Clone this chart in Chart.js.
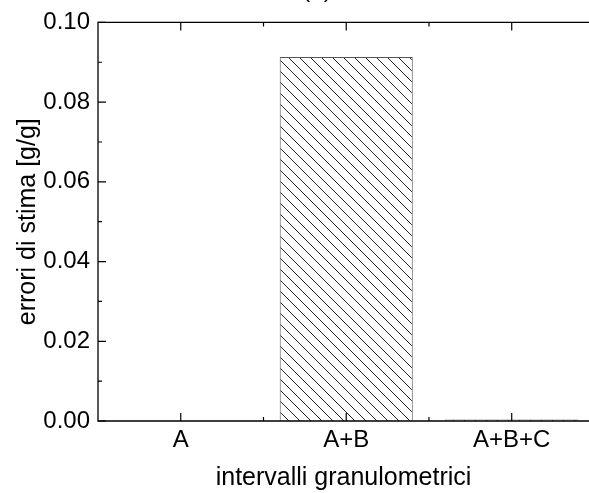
<!DOCTYPE html>
<html>
<head>
<meta charset="utf-8">
<script src="https://cdn.jsdelivr.net/npm/chart.js@4"></script>
<style>
  html, body { margin: 0; padding: 0; overflow: hidden; background: #fff; }
  #errChart { display: block; }
</style>
</head>
<body>
<canvas id="errChart" width="589" height="493"></canvas>
<script>
const categories = ['A', 'A+B', 'A+B+C'];
const errorValues = [0, 0.0913, 0.0004];
const yTicks = [0, 0.02, 0.04, 0.06, 0.08, 0.10];
const yMinorTicks = [0.01, 0.03, 0.05, 0.07, 0.09];
const panelTitle = '(a)';

Chart.defaults.font.family = "'Liberation Sans', Arial, sans-serif";
Chart.defaults.color = '#000';

function makeHatch() {
    const c = document.createElement('canvas');
    c.width = 11;
    c.height = 11;
    const g = c.getContext('2d');
    g.fillStyle = '#fff';
    g.fillRect(0, 0, 11, 11);
    g.strokeStyle = '#222';
    g.lineWidth = 1;
    g.beginPath();
    g.moveTo(-2, -2);
    g.lineTo(13, 13);
    g.stroke();
    return g.createPattern(c, 'repeat');
}

// frame and inward ticks, like the origin plot (right side is cut off in the picture)
const framePlugin = {
    id: 'frame',
    afterDraw(chart) {
        const ctx = chart.ctx;
        const a = chart.chartArea;
        const x = chart.scales.x;
        const y = chart.scales.y;
        ctx.save();
        ctx.strokeStyle = '#000';
        ctx.lineWidth = 1.3;
        ctx.beginPath();
        ctx.moveTo(a.right, a.top);
        ctx.lineTo(a.left, a.top);
        ctx.lineTo(a.left, a.bottom);
        ctx.lineTo(a.right, a.bottom);
        ctx.stroke();

        ctx.lineWidth = 1.2;
        ctx.beginPath();
        yTicks.forEach(v => {
            const p = y.getPixelForValue(v);
            ctx.moveTo(a.left, p); ctx.lineTo(a.left + 8, p);
        });
        yMinorTicks.forEach(v => {
            const p = y.getPixelForValue(v);
            ctx.moveTo(a.left, p); ctx.lineTo(a.left + 4, p);
        });
        categories.forEach((c, i) => {
            const p = x.getPixelForValue(i);
            ctx.moveTo(p, a.bottom); ctx.lineTo(p, a.bottom - 8);
            ctx.moveTo(p, a.top); ctx.lineTo(p, a.top + 8);
            if (i < categories.length - 1) {
                const m = x.getPixelForValue(i + 0.5);
                ctx.moveTo(m, a.bottom); ctx.lineTo(m, a.bottom - 4);
                ctx.moveTo(m, a.top); ctx.lineTo(m, a.top + 4);
            }
        });
        ctx.stroke();

        // panel label, mostly cut off at the top edge
        ctx.font = "24px 'Liberation Sans', Arial, sans-serif";
        ctx.fillStyle = '#000';
        ctx.textAlign = 'center';
        ctx.textBaseline = 'alphabetic';
        ctx.fillText(panelTitle, 317, -3);
        ctx.restore();
    }
};

const ctx = document.getElementById('errChart').getContext('2d');
const errChart = new Chart(ctx, {
    type: 'bar',
    data: {
        datasets: [{
            data: errorValues.map((v, i) => ({ x: i, y: v })),
            backgroundColor: makeHatch(),
            borderColor: '#555',
            borderWidth: 1,
            barPercentage: 0.804,
            categoryPercentage: 1.0
        }]
    },
    options: {
        responsive: false,
        animation: false,
        layout: { padding: { top: 21, right: 0, left: 0, bottom: 0 } },
        plugins: { legend: { display: false }, tooltip: { enabled: false } },
        scales: {
            x: {
                type: 'linear',
                offset: false,
                min: -0.5,
                max: 2.467,   // plot frame continues past the right edge
                grid: { display: false, drawTicks: false, offset: false },
                border: { display: false },
                ticks: {
                    font: { size: 24 },
                    padding: 5,
                    callback: v => categories[v]
                },
                afterBuildTicks(scale) {
                    scale.ticks = categories.map((c, i) => ({ value: i }));
                },
                title: {
                    display: true,
                    text: 'intervalli granulometrici',
                    font: { size: 25 },
                    padding: { top: 0, bottom: 0 }
                },
                afterFit(scale) { scale.height = 72; }
            },
            y: {
                min: 0,
                max: 0.1,
                grid: { display: false, drawTicks: false },
                border: { display: false },
                ticks: {
                    font: { size: 24 },
                    padding: 8,
                    callback: v => v.toFixed(2)
                },
                afterBuildTicks(scale) {
                    scale.ticks = yTicks.map(v => ({ value: v }));
                },
                title: {
                    display: true,
                    text: 'errori di stima [g/g]',
                    font: { size: 25 },
                    padding: { top: 13, bottom: 0 }
                },
                afterFit(scale) { scale.width = 98; }
            }
        }
    },
    plugins: [framePlugin]
});
</script>
</body>
</html>
